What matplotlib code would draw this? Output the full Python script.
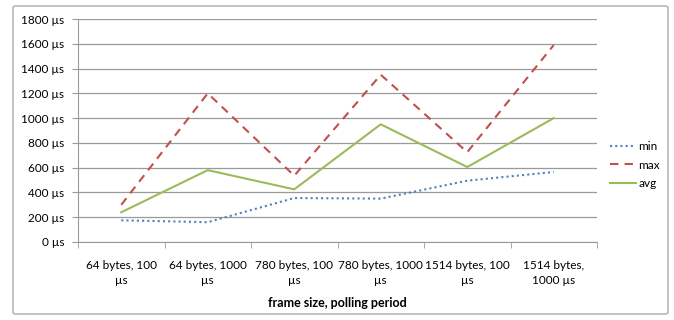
import matplotlib.pyplot as plt
from matplotlib.patches import FancyBboxPatch

plt.rcParams['font.family'] = ['Lato', 'DejaVu Sans']

categories = ["64 bytes, 100\nµs", "64 bytes, 1000\nµs", "780 bytes, 100\nµs",
              "780 bytes, 1000\nµs", "1514 bytes, 100\nµs", "1514 bytes,\n1000 µs"]
min_us = [175, 160, 355, 350, 495, 565]
max_us = [300, 1200, 535, 1350, 725, 1590]
avg_us = [240, 580, 425, 950, 605, 1000]
yticks = list(range(0, 1801, 200))

fig = plt.figure(figsize=(6.74, 3.2), dpi=100)
# chart frame behind the axes
frame = FancyBboxPatch((13 / 674, 6 / 320), 655 / 674, 308 / 320,
                       boxstyle="round,pad=0,rounding_size=0.005",
                       transform=fig.transFigure, facecolor='white',
                       edgecolor='#b8b8b8', linewidth=1.2, zorder=-10)
fig.patches.append(frame)
ax = fig.add_axes([78 / 674, 1 - 242 / 320, (597 - 78) / 674, (242 - 19) / 320])
ax.set_facecolor('none')

x = list(range(len(categories)))
ax.plot(x, min_us, color='#4f81bd', linestyle=(0, (1, 1.5)), linewidth=1.5, label='min')
ax.plot(x, max_us, color='#c0504d', linestyle=(0, (4, 3)), linewidth=1.5, label='max')
ax.plot(x, avg_us, color='#9bbb59', linestyle='-', linewidth=1.5, label='avg')

ax.set_xlim(-0.5, len(categories) - 0.5)
ax.set_ylim(0, 1800)
ax.set_yticks(yticks)
ax.set_yticklabels([f"{v} µs" for v in yticks], fontsize=8.5)
ax.yaxis.grid(True, color='#9a9a9a', linewidth=0.9)
ax.set_axisbelow(True)

ax.set_xticks(x)
ax.set_xticklabels(categories, fontsize=8.5, linespacing=1.45)
ax.set_xticks([i - 0.5 for i in range(len(categories) + 1)], minor=True)
ax.tick_params(axis='x', which='major', length=0, pad=13)
ax.tick_params(axis='x', which='minor', length=4, color='#9a9a9a')
ax.tick_params(axis='y', length=4, color='#9a9a9a', pad=6)
ax.set_xlabel("frame size, polling period", fontsize=9, fontweight='bold', labelpad=8)

for side in ['top', 'right']:
    ax.spines[side].set_visible(False)
for side in ['left', 'bottom']:
    ax.spines[side].set_color('#9a9a9a')

ax.legend(loc='center left', bbox_to_anchor=(1.005, 0.345), frameon=False, fontsize=8.5,
          handlelength=2.2, handletextpad=0.2, labelspacing=0.65)

fig.savefig('out.png', dpi=100)
